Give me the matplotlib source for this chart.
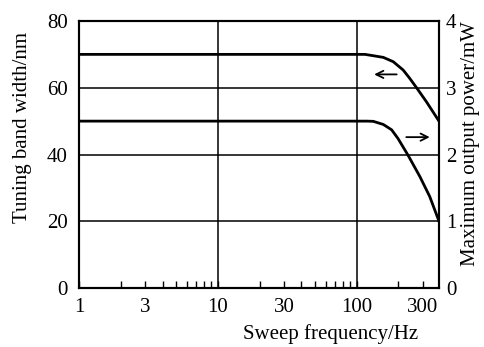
import numpy as np
import matplotlib.pyplot as plt
from matplotlib.ticker import FixedLocator, NullFormatter

plt.rcParams['font.family'] = ['Liberation Serif', 'DejaVu Serif']

# tuning band width (left axis, nm) vs sweep frequency (Hz)
f_bw = [1, 115, 132, 156, 184, 217, 242, 273, 319, 393]
bw = [70, 70, 69.6, 69.1, 67.8, 65.3, 62.8, 59.8, 55.8, 50]

# max output power (right axis, mW)
f_pw = [1, 118, 132, 156, 179, 199, 235, 286, 337, 393]
pw = [2.5, 2.5, 2.497, 2.45, 2.37, 2.24, 1.99, 1.67, 1.37, 1.0]

xticks = [1, 3, 10, 30, 100, 300]
xlabels = ['1', '3', '10', '30', '100', '300']
minor = [m * d for d in [1, 10, 100] for m in range(2, 10) if m * d < 393]

fig = plt.figure(figsize=(4.84, 3.47), dpi=100)
ax = fig.add_axes([79/484, 1 - 288/347, 360/484, 267/347])
ax2 = ax.twinx()

ax.set_xscale('log')
ax.set_xlim(1, 393)
ax.set_ylim(0, 80)
ax2.set_ylim(0, 4)

for y in [20, 40, 60]:
    ax.axhline(y, color='black', lw=1.1)
for x in [10, 100]:
    ax.axvline(x, color='black', lw=1.1)

ax.plot(f_bw, bw, color='black', lw=2, solid_joinstyle='round')
ax2.plot(f_pw, pw, color='black', lw=2, solid_joinstyle='round')

ax.annotate('', xy=(128, 64), xytext=(204, 64),
            arrowprops=dict(arrowstyle='->', color='black', lw=1.3, mutation_scale=13))
ax.annotate('', xy=(353, 45.2), xytext=(218, 45.2),
            arrowprops=dict(arrowstyle='->', color='black', lw=1.3, mutation_scale=13))

ax.xaxis.set_major_locator(FixedLocator(xticks))
ax.set_xticklabels(xlabels)
ax.xaxis.set_minor_locator(FixedLocator(minor))
ax.xaxis.set_minor_formatter(NullFormatter())
ax.tick_params(axis='x', which='both', direction='in', length=5, width=1, pad=7, labelsize=15)
ax.set_yticks([0, 20, 40, 60, 80])
ax.tick_params(axis='y', length=0, pad=8, labelsize=15)
ax2.set_yticks([0, 1, 2, 3, 4])
ax2.tick_params(axis='y', length=0, pad=5, labelsize=15)

for a in (ax, ax2):
    for s in a.spines.values():
        s.set_linewidth(1.5)

ax.set_ylabel('Tuning band width/nm', fontsize=15)
ax2.set_ylabel('Maximum output power/mW', fontsize=15)
ax.set_xlabel('Sweep frequency/Hz', fontsize=15)
ax.xaxis.set_label_coords(0.70, -0.135)
ax.yaxis.set_label_coords(-0.13, 0.6)
ax2.yaxis.set_label_coords(1.062, 0.54)

fig.savefig('out.png', dpi=100)
